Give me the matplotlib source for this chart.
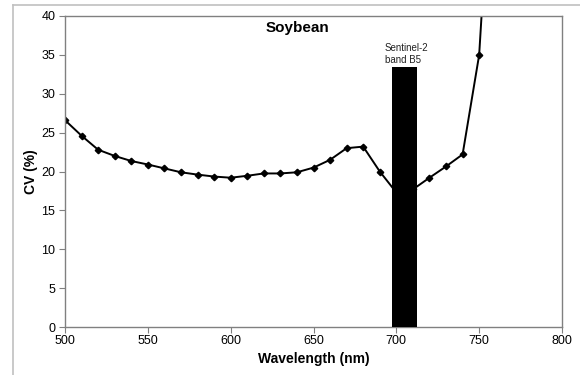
import matplotlib
matplotlib.use('Agg')
import matplotlib.pyplot as plt
from matplotlib.lines import Line2D

plt.rcParams['font.family'] = ['Liberation Sans', 'DejaVu Sans']

# CV of soybean spectra per wavelength
wavelength = [500, 510, 520, 530, 540, 550, 560, 570, 580, 590, 600, 610, 620,
              630, 640, 650, 660, 670, 680, 690, 700, 710, 720, 730, 740, 750, 760]
cv = [26.6, 24.6, 22.8, 22.0, 21.35, 20.9, 20.4, 19.9, 19.6, 19.35, 19.2, 19.45,
      19.75, 19.75, 19.9, 20.5, 21.5, 23.0, 23.2, 20.0, 17.3, 17.7, 19.2, 20.65,
      22.2, 35.0, 70.0]

# Sentinel-2 band B5 (centre 705 nm, width 15 nm)
band_centre = 705
band_width = 15
band_height = 33.4
band_label = "Sentinel-2\nband B5"

fig = plt.figure(figsize=(5.8, 3.75), dpi=100)
ax = fig.add_axes([65 / 580, 1 - 327 / 375, 497 / 580, 311 / 375])

# chart area border (left and top)
fig.add_artist(Line2D([13 / 580, 13 / 580], [0, 1 - 5 / 375], transform=fig.transFigure,
                      color='#c0c0c0', lw=1.2))
fig.add_artist(Line2D([13 / 580, 1], [1 - 5 / 375, 1 - 5 / 375], transform=fig.transFigure,
                      color='#c0c0c0', lw=1.2))

ax.plot(wavelength, cv, color='black', lw=1.4, marker='D', markersize=3.3, zorder=2, clip_on=True)
ax.bar(band_centre, band_height, width=band_width, color='black', zorder=3)
ax.text(band_centre - 12, band_height + 0.35, band_label, fontsize=7, ha='left', va='bottom',
        color='#222222', linespacing=1.15)

ax.set_xlim(500, 800)
ax.set_ylim(0, 40)
ax.set_xticks(range(500, 801, 50))
ax.set_yticks(range(0, 41, 5))
ax.tick_params(axis='both', direction='out', length=4, width=0.8, color='#808080',
               labelsize=9, pad=2)
ax.tick_params(axis='y', pad=3)
for s in ax.spines.values():
    s.set_color('#808080')
    s.set_linewidth(1.0)

ax.text(0.468, 0.962, 'Soybean', transform=ax.transAxes, fontsize=11, fontweight='bold',
        ha='center', va='center')
ax.set_xlabel('Wavelength (nm)', fontsize=10, fontweight='bold', labelpad=3)
ax.set_ylabel('CV (%)', fontsize=10, fontweight='bold', labelpad=2)

fig.savefig('out.png', dpi=100)
